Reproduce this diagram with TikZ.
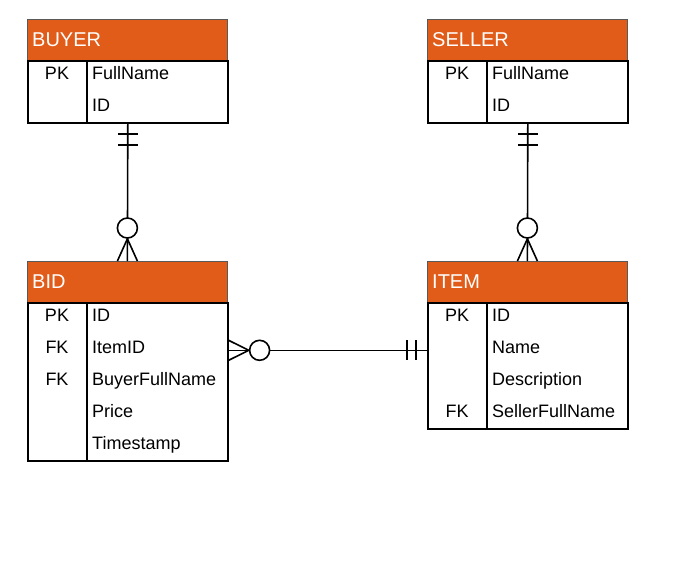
\documentclass[tikz,border=0pt]{standalone}
\usepackage{fontspec}
\setmainfont{Liberation Sans}
\usetikzlibrary{calc}
\definecolor{erdorange}{RGB}{225,92,24}
\def\mwidth{200}
\def\mkeycol{60}
\def\mrow{32}
\def\mheadcolor{erdorange}
\def\mheadline{black!65}
\tikzset{
	erdline/.style={line width=1.6pt, black},
	erdhead/.style={draw=\mheadline, fill=\mheadcolor, line width=0.8pt, minimum width=\mwidth, minimum height=40.5, anchor=north west, inner sep=0pt},
	erdbody/.style={erdline, draw, fill=white, minimum width=\mwidth, anchor=north west, inner sep=0pt},
	erdtitle/.style={text=white, font=\fontsize{20}{24}\selectfont, anchor=base west, inner sep=0pt},
	erdkey/.style={font=\fontsize{18}{22}\selectfont, anchor=base, inner sep=0pt},
	erdfield/.style={font=\fontsize{18}{22}\selectfont, anchor=base west, inner sep=0pt},
	erdcirc/.style={erdline, draw, fill=white, circle, minimum size=20, inner sep=0pt},
}
\begin{document}
\begin{tikzpicture}[x=1pt, y=-1pt]
		\useasboundingbox (0,0) rectangle (700,574);
		% BUYER
		\node[erdhead] (buyerhead) at (27,19) {};
		\node[erdtitle] (buyertitle) at ($(buyerhead.north west)+(5,27)$) {BUYER};
		\node[erdbody, minimum height=2*\mrow-2] (buyer) at (buyerhead.south west) {};
		\draw[erdline] ($(buyer.north west)+(\mkeycol,0)$) -- ($(buyer.south west)+(\mkeycol,0)$);
		\foreach \k/\f [count=\i] in {PK/FullName, /ID} {
			\node[erdkey] (buyerkey\i) at ($(buyer.north west)+(30,\mrow*\i-13)$) {\k};
			\node[erdfield] (buyerfield\i) at ($(buyer.north west)+(65,\mrow*\i-13)$) {\f};
		}
		% SELLER
		\node[erdhead] (sellerhead) at (427,19) {};
		\node[erdtitle] (sellertitle) at ($(sellerhead.north west)+(5,27)$) {SELLER};
		\node[erdbody, minimum height=2*\mrow-2] (seller) at (sellerhead.south west) {};
		\draw[erdline] ($(seller.north west)+(\mkeycol,0)$) -- ($(seller.south west)+(\mkeycol,0)$);
		\foreach \k/\f [count=\i] in {PK/FullName, /ID} {
			\node[erdkey] (sellerkey\i) at ($(seller.north west)+(30,\mrow*\i-13)$) {\k};
			\node[erdfield] (sellerfield\i) at ($(seller.north west)+(65,\mrow*\i-13)$) {\f};
		}
		% BID
		\node[erdhead] (bidhead) at (27,261) {};
		\node[erdtitle] (bidtitle) at ($(bidhead.north west)+(5,27)$) {BID};
		\node[erdbody, minimum height=5*\mrow-2] (bid) at (bidhead.south west) {};
		\draw[erdline] ($(bid.north west)+(\mkeycol,0)$) -- ($(bid.south west)+(\mkeycol,0)$);
		\foreach \k/\f [count=\i] in {PK/ID, FK/ItemID, FK/BuyerFullName, /Price, /Timestamp} {
			\node[erdkey] (bidkey\i) at ($(bid.north west)+(30,\mrow*\i-13)$) {\k};
			\node[erdfield] (bidfield\i) at ($(bid.north west)+(65,\mrow*\i-13)$) {\f};
		}
		% ITEM
		\node[erdhead] (itemhead) at (427,261) {};
		\node[erdtitle] (itemtitle) at ($(itemhead.north west)+(5,27)$) {ITEM};
		\node[erdbody, minimum height=4*\mrow-2] (item) at (itemhead.south west) {};
		\draw[erdline] ($(item.north west)+(\mkeycol,0)$) -- ($(item.south west)+(\mkeycol,0)$);
		\foreach \k/\f [count=\i] in {PK/ID, /Name, /Description, FK/SellerFullName} {
			\node[erdkey] (itemkey\i) at ($(item.north west)+(30,\mrow*\i-13)$) {\k};
			\node[erdfield] (itemfield\i) at ($(item.north west)+(65,\mrow*\i-13)$) {\f};
		}
		% BUYER -- BID
		\draw[erdline] (buyer.south) -- (bidhead.north);
		\draw[erdline] ($(buyer.south)+(-10,10)$) -- ++(20,0);
		\draw[erdline] ($(buyer.south)+(-10,21)$) -- ++(20,0);
		\node[erdcirc] (buyercirc) at ($(bidhead.north)+(0,-33)$) {};
		\draw[erdline] ($(bidhead.north)+(-10,0)$) -- (buyercirc.south) -- ($(bidhead.north)+(10,0)$);
		% SELLER -- ITEM
		\draw[erdline] (seller.south) -- (itemhead.north);
		\draw[erdline] ($(seller.south)+(-10,10)$) -- ++(20,0);
		\draw[erdline] ($(seller.south)+(-10,21)$) -- ++(20,0);
		\node[erdcirc] (sellercirc) at ($(itemhead.north)+(0,-33)$) {};
		\draw[erdline] ($(itemhead.north)+(-10,0)$) -- (sellercirc.south) -- ($(itemhead.north)+(10,0)$);
		% BID -- ITEM
		\coordinate (bidlink) at ($(bid.north east)+(0,48)$);
		\coordinate (itemlink) at ($(item.north west)+(0,48)$);
		\draw[erdline] (bidlink) -- (itemlink);
		\node[erdcirc] (bidcirc) at ($(bidlink)+(31,0)$) {};
		\draw[erdline] ($(bidlink)+(0,-10)$) -- (bidcirc.west) -- ($(bidlink)+(0,10)$);
		\draw[erdline] ($(itemlink)+(-20,-10)$) -- ++(0,20);
		\draw[erdline] ($(itemlink)+(-11,-10)$) -- ++(0,20);
	\end{tikzpicture}
\end{document}
